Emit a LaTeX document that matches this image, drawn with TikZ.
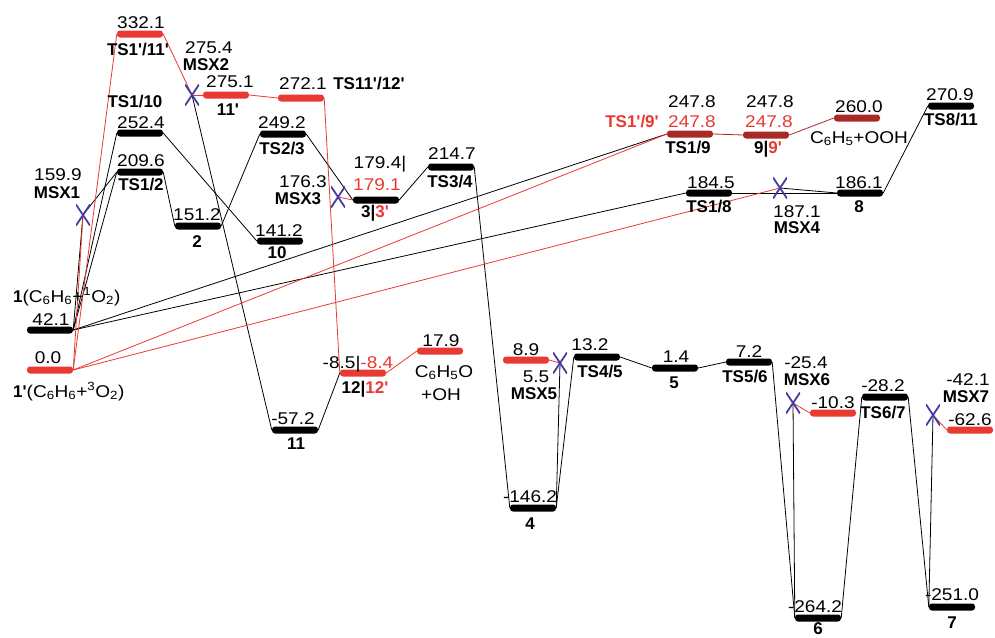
\documentclass[tikz,border=0pt]{standalone}
\usepackage{fontspec}
\setmainfont{Liberation Sans}[FakeStretch=1.12]
\newfontfamily\lblfont{Liberation Sans}
\definecolor{cred}{RGB}{232,58,50}
\definecolor{cdred}{RGB}{168,42,36}
\definecolor{xblue}{RGB}{70,60,160}
\pgfdeclarelayer{bg}
\pgfsetlayers{bg,main}
\begin{document}
\begin{tikzpicture}[x=1pt,y=-1pt,
  bar/.style={rectangle, fill=black, minimum width=46pt, minimum height=7pt, inner sep=0pt, rounded corners=3pt},
  rbar/.style={bar, fill=cred},
  dbar/.style={bar, fill=cdred},
  xmk/.style={minimum width=14pt, minimum height=21pt, inner sep=0pt,
    path picture={\draw[xblue,line width=1.8pt] (path picture bounding box.south west) -- (path picture bounding box.north east) (path picture bounding box.north west) -- (path picture bounding box.south east);}},
  num/.style={font=\fontsize{17}{19}\selectfont, inner sep=0pt, anchor=base},
  lbl/.style={font=\lblfont\bfseries\fontsize{17}{19}\selectfont, inner sep=0pt, anchor=base},
  bl/.style={draw=black, line width=0.8pt},
  rl/.style={draw=cred, line width=0.8pt},
  dl/.style={draw=cdred, line width=0.8pt}]
\useasboundingbox (0,0) rectangle (995,637);
% bars
\node[rbar] (b1p) at (50,370) {};
\node[bar] (b1) at (50,330) {};
\node[rbar] (bts111) at (140,34) {};
\node[bar] (bts110) at (140,133) {};
\node[bar] (bts12) at (140,172) {};
\node[rbar] (b11p) at (226,95) {};
\node[rbar] (bts1112) at (301,98) {};
\node[bar] (bts23) at (283,134) {};
\node[bar] (b2) at (198,226) {};
\node[bar] (b10) at (280,241) {};
\node[bar] (b3) at (376,200) {};
\node[bar] (bts34) at (451,167) {};
\node[rbar] (b12) at (363,373) {};
\node[rbar] (bphoh) at (440,351) {};
\node[bar] (b11) at (295,430) {};
\node[bar] (b4) at (533,508) {};
\node[rbar] (bm5) at (526,360) {};
\node[bar] (bts45) at (597,357) {};
\node[bar] (b5) at (675,368) {};
\node[bar] (bts56) at (749,362) {};
\node[rbar] (bm6) at (833,413) {};
\node[bar] (bts67) at (885,397) {};
\node[rbar] (bm7) at (970,430) {};
\node[bar] (b6) at (818,618) {};
\node[bar] (b7) at (952,607) {};
\node[dbar] (bts19) at (690,134) {};
\node[dbar] (b9) at (766,135) {};
\node[dbar] (bphooh) at (857,118) {};
\node[bar] (bts811) at (951,106) {};
\node[bar] (bts18) at (709,193) {};
\node[bar] (b8) at (860,193) {};
% crossings
\node[xmk] (x1) at (83,215) {};
\node[xmk] (x2) at (192,95) {};
\node[xmk] (x3) at (338,197) {};
\node[xmk] (x4) at (780,188) {};
\node[xmk] (x5) at (560,363) {};
\node[xmk] (x6) at (793,403) {};
\node[xmk] (x7) at (933,415) {};
% connectors
\begin{pgfonlayer}{bg}
\draw[bl] (b1.east) -- (x1.center);
\draw[bl] (x1.center) -- (bts12.west);
\draw[bl] (b1.east) -- (bts12.west);
\draw[bl] (b1.east) -- (bts110.west);
\draw[bl] (b1.east) -- (bts19.west);
\draw[bl] (b1.east) -- (bts18.west);
\draw[bl] (bts12.east) -- (b2.west);
\draw[bl] (b2.east) -- (bts23.west);
\draw[bl] (bts23.east) -- (b3.west);
\draw[bl] (b3.east) -- (bts34.west);
\draw[bl] (bts34.east) -- (b4.west);
\draw[bl] (bts110.east) -- (b10.west);
\draw[bl] (x2.center) -- (b11.west);
\draw[bl] (b11.east) -- (b12.west);
\draw[bl] (b4.east) -- (x5.center);
\draw[bl] (b4.east) -- (bts45.west);
\draw[bl] (bts45.east) -- (b5.west);
\draw[bl] (b5.east) -- (bts56.west);
\draw[bl] (bts56.east) -- (b6.west);
\draw[bl] (x6.center) -- (b6.west);
\draw[bl] (b6.east) -- (bts67.west);
\draw[bl] (bts67.east) -- (b7.west);
\draw[bl] (x7.center) -- (b7.west);
\draw[bl] (bts18.east) -- (b8.west);
\draw[bl] (x4.center) -- (b8.west);
\draw[bl] (b8.east) -- (bts811.west);
\draw[rl] (b1p.east) -- (bts111.west);
\draw[rl] (b1p.east) -- (x1.center);
\draw[rl] (bts111.east) -- (x2.center);
\draw[rl] (x2.center) -- (b11p.west);
\draw[rl] (b11p.east) -- (bts1112.west);
\draw[rl] (bts1112.east) -- (b12.west);
\draw[rl] (b12.east) -- (bphoh.west);
\draw[rl] (x3.center) -- (b3.west);
\draw[rl] (b1p.east) -- (bts19.west);
\draw[rl] (b1p.east) -- (x4.center);
\draw[rl] (bm5.east) -- (x5.center);
\draw[rl] (x6.center) -- (bm6.west);
\draw[rl] (x7.center) -- (bm7.west);
\draw[dl] (bts19.east) -- (b9.west);
\draw[dl] (b9.east) -- (bphooh.west);
\end{pgfonlayer}
% numbers
\node[num] (n1) at (141,28) {332.1};
\node[num] (n2) at (209,53) {275.4};
\node[num] (n3) at (230,87) {275.1};
\node[num] (n4) at (303,89) {272.1};
\node[num] (n5) at (141,128) {252.4};
\node[num] (n6) at (141,166) {209.6};
\node[num] (n7) at (58,180) {159.9};
\node[num] (n8) at (282,128) {249.2};
\node[num] (n9) at (197,220) {151.2};
\node[num] (n10) at (279,236) {141.2};
\node[num] (n11) at (303,187) {176.3};
\node[num] (n12) at (380,168) {179.4|};
\node[num, text=cred] (n13) at (377,190) {179.1};
\node[num] (n14) at (452,159) {214.7};
\node[num] (n15) at (51,325) {42.1};
\node[num] (n16) at (48,363) {0.0};
\node[num] (n17) at (358,368) {-8.5|{\color{cred}-8.4}};
\node[num] (n18) at (441,346) {17.9};
\node[num] (n19) at (293,424) {-57.2};
\node[num] (n20) at (530,502) {-146.2};
\node[num] (n21) at (526,355) {8.9};
\node[num] (n22) at (536,382) {5.5};
\node[num] (n23) at (590,350) {13.2};
\node[num] (n24) at (676,362) {1.4};
\node[num] (n25) at (749,357) {7.2};
\node[num] (n26) at (806,368) {-25.4};
\node[num] (n27) at (833,408) {-10.3};
\node[num] (n28) at (883,391) {-28.2};
\node[num] (n29) at (968,385) {-42.1};
\node[num] (n30) at (970,425) {-62.6};
\node[num] (n31) at (815,612) {-264.2};
\node[num] (n32) at (952,600) {-251.0};
\node[num] (n33) at (692,107) {247.8};
\node[num, text=cred] (n34) at (692,127) {247.8};
\node[num] (n35) at (770,107) {247.8};
\node[num, text=cred] (n36) at (769,127) {247.8};
\node[num] (n37) at (859,112) {260.0};
\node[num] (n38) at (950,100) {270.9};
\node[num] (n39) at (711,188) {184.5};
\node[num] (n40) at (859,188) {186.1};
\node[num] (n41) at (797,217) {187.1};
% labels
\node[lbl] (l1) at (138,55) {TS1'/11'};
\node[lbl] (l2) at (206,70) {MSX2};
\node[lbl] (l3) at (228,115) {11'};
\node[lbl] (l4) at (135,107) {TS1/10};
\node[lbl] (l5) at (141,190) {TS1/2};
\node[lbl] (l6) at (57,198) {MSX1};
\node[lbl] (l7) at (369,89) {TS11'/12'};
\node[lbl] (l8) at (282,154) {TS2/3};
\node[lbl] (l9) at (298,204) {MSX3};
\node[lbl] (l10) at (375,217) {3|{\color{cred}3'}};
\node[lbl] (l11) at (450,187) {TS3/4};
\node[lbl] (l12) at (197,247) {2};
\node[lbl] (l13) at (277,258) {10};
\node[lbl] (l14) at (365,393) {12|{\color{cred}12'}};
\node[lbl] (l15) at (296,449) {11};
\node[lbl] (l16) at (530,529) {4};
\node[lbl] (l17) at (534,399) {MSX5};
\node[lbl] (l18) at (600,377) {TS4/5};
\node[lbl] (l19) at (674,388) {5};
\node[lbl] (l20) at (745,382) {TS5/6};
\node[lbl] (l21) at (807,385) {MSX6};
\node[lbl] (l22) at (883,418) {TS6/7};
\node[lbl] (l23) at (966,402) {MSX7};
\node[lbl] (l24) at (818,634) {6};
\node[lbl] (l25) at (952,628) {7};
\node[lbl] (l26) at (688,153) {TS1/9};
\node[lbl, text=cred] (l27) at (632,127) {TS1'/9'};
\node[lbl] (l28) at (768,153) {9|{\color{cred}9'}};
\node[lbl] (l29) at (951,125) {TS8/11};
\node[lbl] (l30) at (709,212) {TS1/8};
\node[lbl] (l31) at (859,212) {8};
\node[lbl] (l32) at (797,233) {MSX4};
% species
\node[num, anchor=base west] (s1) at (13,302) {{\lblfont\bfseries 1}(C\textsubscript{6}H\textsubscript{6}+\textsuperscript{1}O\textsubscript{2})};
\node[num, anchor=base west] (s2) at (13,397) {{\lblfont\bfseries 1'}(C\textsubscript{6}H\textsubscript{6}+\textsuperscript{3}O\textsubscript{2})};
\node[num] (s3) at (859,143) {C\textsubscript{6}H\textsubscript{5}+OOH};
\node[num] (s4) at (444,377) {C\textsubscript{6}H\textsubscript{5}O};
\node[num] (s5) at (441,400) {+OH};
\end{tikzpicture}
\end{document}
